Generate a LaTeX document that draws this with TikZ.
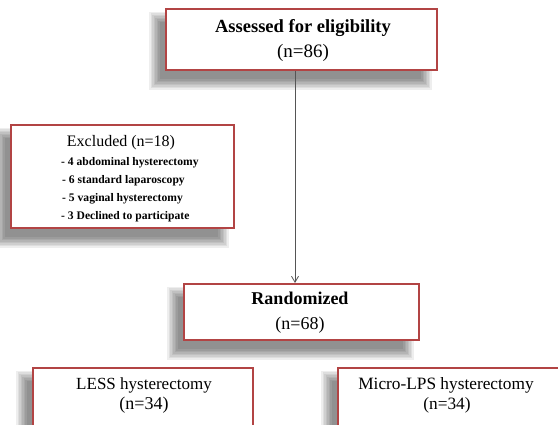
\documentclass[tikz,border=0pt]{standalone}
\usepackage{fontspec}
\setmainfont{Liberation Serif}
\usetikzlibrary{arrows.meta,calc,backgrounds}
\definecolor{boxred}{RGB}{178,68,68}
\definecolor{arrgray}{RGB}{85,85,85}
\newcommand\softshadow[1]{%
  \foreach \i in {0,...,7}{%
    \fill[black,opacity=0.065]
      ($(#1.north west)+(-16+1.5*\i,4+1.5*\i)$) rectangle
      ($(#1.south east)+(-6-1.5*\i,19-1.5*\i)$);
  }%
}
\begin{document}
\begin{tikzpicture}[x=1pt,y=-1pt,
  box/.style={draw=boxred, line width=1.8pt, fill=white, inner sep=0pt, anchor=north west},
  txt/.style={inner sep=0pt, align=center, text=black},
  item/.style={inner sep=0pt, anchor=west, font=\bfseries\fontsize{11.6}{13}\selectfont, text=black},
  arr/.style={draw=arrgray, line width=0.8pt, -{Straight Barb[length=6pt,width=7pt]}}]
\useasboundingbox (0,0) rectangle (558,425);
\clip (0,0) rectangle (558,425);

% boxes
\node[box, minimum width=271pt, minimum height=61pt] (top) at (165,8) {};
\node[box, minimum width=223pt, minimum height=103pt] (excl) at (10,124) {};
\node[box, minimum width=235pt, minimum height=56pt] (rand) at (183,283) {};
\node[box, minimum width=220pt, minimum height=80pt] (less) at (32,367) {};
\node[box, minimum width=260pt, minimum height=80pt] (micro) at (337,367) {};

\begin{scope}[on background layer]
  \fill[white] (0,0) rectangle (558,425);
  \softshadow{top}
  \softshadow{excl}
  \softshadow{rand}
  \softshadow{less}
  \softshadow{micro}
\end{scope}

% texts
\node[txt, font=\bfseries\fontsize{18.5}{20}\selectfont] (toptxt) at (303,28) {Assessed for eligibility};
\node[txt, font=\fontsize{19}{21}\selectfont] (topn) at (303,53) {(n=86)};

\node[txt, font=\fontsize{16}{18}\selectfont] (excltxt) at (121,143) {Excluded (n=18)};
\node[item] (ex1) at (61,163) {- 4 abdominal hysterectomy};
\node[item] (ex2) at (62,181) {- 6 standard laparoscopy};
\node[item] (ex3) at (62,199) {- 5 vaginal hysterectomy};
\node[item] (ex4) at (61,217) {- 3 Declined to participate};

\node[txt, font=\bfseries\fontsize{18}{20}\selectfont] (randtxt) at (300,298) {Randomized};
\node[txt, font=\fontsize{18}{20}\selectfont] (randn) at (300,325) {(n=68)};

\node[txt, font=\fontsize{17}{19}\selectfont] (lesstxt) at (144,385) {LESS hysterectomy};
\node[txt, font=\fontsize{18}{20}\selectfont] (lessn) at (144,405) {(n=34)};

\node[txt, font=\fontsize{17.3}{19}\selectfont] (microtxt) at (446,385) {Micro-LPS hysterectomy};
\node[txt, font=\fontsize{17.3}{19}\selectfont] (micron) at (447,405) {(n=34)};

% connector
\coordinate (ax) at (295,0);
\draw[arr] (top.south -| ax) -- (rand.north -| ax);
\end{tikzpicture}
\end{document}
